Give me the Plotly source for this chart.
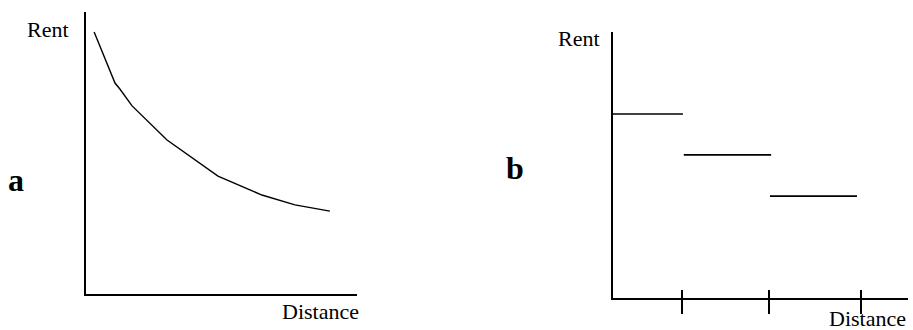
import plotly.graph_objects as go

# panel a: continuous rent gradient
dist_a = [0.30, 1.07, 1.25, 1.70, 2.99, 4.87, 6.49, 7.71, 9.00]
rent_a = [9.29, 7.48, 7.27, 6.67, 5.46, 4.18, 3.51, 3.16, 2.94]

# panel b: stepwise rent by distance band
band_start = [0.0, 2.40, 5.32]
band_end = [2.37, 5.36, 8.27]
band_rent = [6.92, 5.38, 3.83]
band_ticks = [2.35, 5.30, 8.40]

W, H = 913, 330
serif = "Liberation Serif, Times New Roman, serif"

xs, ys = [], []
for s, e, r in zip(band_start, band_end, band_rent):
    xs += [s, e, None]
    ys += [r, r, None]

fig = go.Figure()
fig.add_trace(go.Scatter(x=dist_a, y=rent_a, mode="lines",
                         line=dict(color="black", width=1.4),
                         xaxis="x", yaxis="y"))
fig.add_trace(go.Scatter(x=xs, y=ys, mode="lines",
                         line=dict(color="black", width=1.6),
                         xaxis="x2", yaxis="y2"))
# invisible copy so the overlay axis (upper half of the ticks) is drawn
fig.add_trace(go.Scatter(x=xs, y=ys, mode="lines", hoverinfo="skip",
                         line=dict(color="rgba(0,0,0,0)", width=0),
                         xaxis="x3", yaxis="y2"))

ax = dict(showgrid=False, zeroline=False, showline=True, linecolor="black",
          linewidth=2, range=[0, 10], fixedrange=True, showticklabels=False,
          ticks="")

fig.update_layout(
    width=W, height=H,
    margin=dict(l=0, r=0, t=0, b=0),
    paper_bgcolor="white", plot_bgcolor="white",
    showlegend=False,
    xaxis=dict(ax, domain=[86 / W, 357 / W], anchor="y"),
    yaxis=dict(ax, domain=[1 - 294 / H, 1 - 12 / H], anchor="x"),
    xaxis2=dict(ax, domain=[613 / W, 908 / W], anchor="y2",
                tickvals=band_ticks, ticks="outside", ticklen=14,
                tickwidth=1.5, tickcolor="black"),
    xaxis3=dict(ax, domain=[613 / W, 908 / W], anchor="y2", overlaying="x2",
                showline=False, tickvals=band_ticks, ticks="inside",
                ticklen=8, tickwidth=1.5, tickcolor="black"),
    yaxis2=dict(ax, domain=[1 - 298 / H, 1 - 32 / H], anchor="x2"),
)

labels = [
    ("Rent", 48, 29, 22, False),
    ("Distance", 320, 311, 22, False),
    ("a", 16, 180, 32, True),
    ("Rent", 579, 39, 22, False),
    ("Distance", 867, 318, 22, False),
    ("b", 515, 168, 32, True),
]
for text, px, py, size, bold in labels:
    fig.add_annotation(
        text=f"<b>{text}</b>" if bold else text,
        x=px / W, y=1 - py / H, xref="paper", yref="paper",
        xanchor="center", yanchor="middle", showarrow=False,
        font=dict(family=serif, size=size, color="black"),
    )

fig.write_html("out.html", config={"displayModeBar": False},
               post_script="document.body.style.margin='0';")
